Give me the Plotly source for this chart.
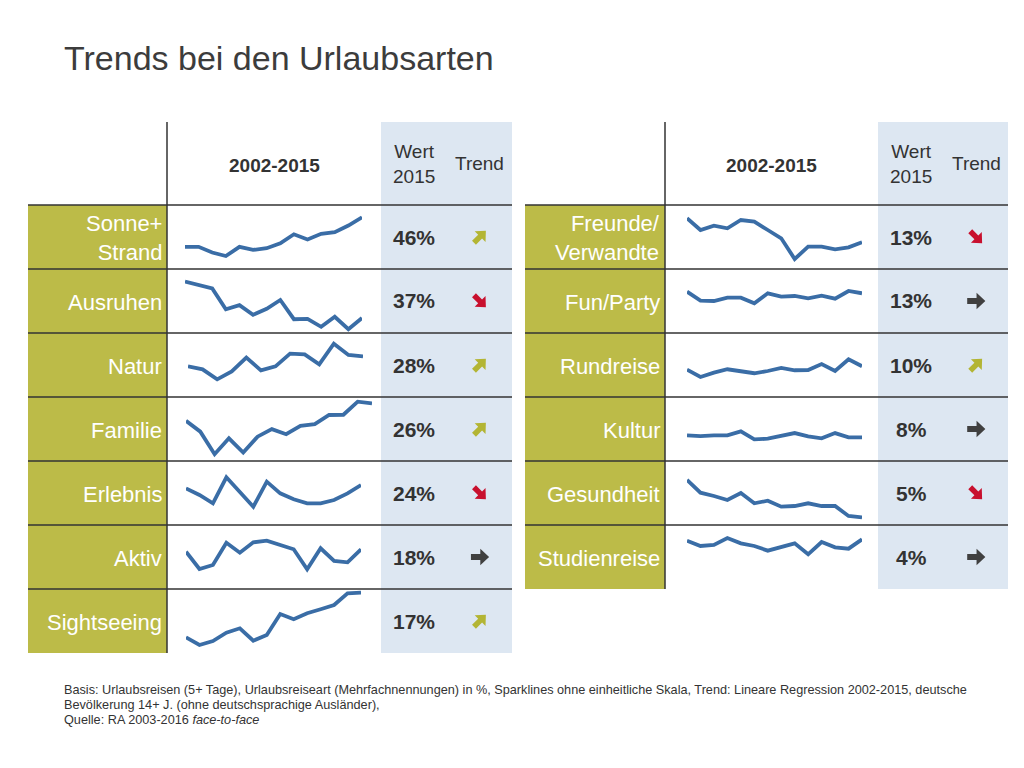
import math
import plotly.graph_objects as go

W, H = 1024, 768

# ---------------- data ----------------
years = list(range(2002, 2016))
years_natur = list(range(2003, 2016))

labels_left = ["Sonne+<br>Strand", "Ausruhen", "Natur", "Familie", "Erlebnis", "Aktiv", "Sightseeing"]
wert_left = [46, 37, 28, 26, 24, 18, 17]
trend_left = ["up", "down", "up", "up", "down", "flat", "up"]

labels_right = ["Freunde/<br>Verwandte", "Fun/Party", "Rundreise", "Kultur", "Gesundheit", "Studienreise"]
wert_right = [13, 13, 10, 8, 5, 4]
trend_right = ["down", "flat", "up", "flat", "down", "flat"]

# sparkline values in % (estimated, no common scale)
sonne_strand = [39.2, 39.2, 37.9, 37.1, 39.2, 38.5, 38.9, 40.0, 42.1, 40.9, 42.2, 42.6, 44.1, 46.0]
ausruhen = [46.1, 45.2, 44.4, 39.2, 40.2, 37.8, 39.3, 41.5, 36.7, 36.8, 34.8, 37.3, 34.2, 37.0]
natur = [26.5, 26.05, 24.55, 25.75, 27.8, 25.9, 26.5, 28.4, 28.3, 26.8, 29.9, 28.2, 28.0]
familie = [23.9, 22.6, 19.9, 21.8, 20.1, 22.0, 22.9, 22.3, 23.3, 23.5, 24.6, 24.63, 26.2, 26.0]
erlebnis = [23.5, 22.5, 21.25, 25.15, 22.95, 20.75, 24.5, 22.75, 21.85, 21.25, 21.25, 21.75, 22.75, 24.0]
aktiv = [17.76, 16.03, 16.43, 18.66, 17.66, 18.7, 18.86, 18.43, 18.0, 16.0, 18.1, 16.83, 16.7, 18.0]
sightseeing = [12.54, 11.77, 12.17, 13.0, 13.44, 12.2, 12.77, 14.87, 14.34, 14.94, 15.34, 15.77, 16.94, 17.0]
freunde_verwandte = [15.4, 14.23, 14.66, 14.4, 15.23, 15.06, 14.23, 13.4, 11.33, 12.56, 12.56, 12.3, 12.5, 13.0]
fun_party = [13.16, 12.26, 12.23, 12.56, 12.56, 12.0, 13.0, 12.66, 12.73, 12.5, 12.76, 12.46, 13.23, 13.0]
rundreise = [9.73, 9.14, 9.49, 9.76, 9.6, 9.44, 9.62, 9.86, 9.68, 9.7, 10.18, 9.62, 10.56, 10.0]
kultur = [8.16, 8.10, 8.16, 8.16, 8.48, 7.84, 7.89, 8.13, 8.34, 8.08, 7.92, 8.34, 8.0, 8.0]
gesundheit = [8.73, 7.46, 7.13, 6.73, 7.43, 6.4, 6.66, 6.06, 6.13, 6.4, 6.13, 6.13, 5.13, 5.0]
studienreise = [3.92, 3.60, 3.66, 4.08, 3.76, 3.60, 3.32, 3.52, 3.76, 3.10, 3.84, 3.52, 3.44, 4.0]

series_left = [(years, sonne_strand), (years, ausruhen), (years_natur, natur), (years, familie),
               (years, erlebnis), (years, aktiv), (years, sightseeing)]
series_right = [(years, freunde_verwandte), (years, fun_party), (years, rundreise), (years, kultur),
                (years, gesundheit), (years, studienreise)]

# ---------------- layout / style ----------------
yrange_left = [[34.11, 48.83], [33.25, 49.25], [21.9, 31.5], [19.08, 26.76], [18.0, 27.6], [14.03, 20.43], [10.97, 17.37]]
yrange_right = [[10.33, 16.73], [9.03, 15.43], [7.54, 12.66], [6.11, 11.22], [4.23, 10.63], [1.02, 4.86]]
xspan_left = [(185, 362), (185, 362), (188, 363), (186, 372), (186, 361), (186, 361), (186, 361)]
xspan_right = [(687, 862)] * 6

ROW_TOP = 205
ROW_H = 64
OLIVE = "#bcbb48"
BLUE_BG = "#dde7f2"
LINE_BLUE = "#3a6da6"
DARK = "#333333"
ARROW_COLOR = {"up": "#b3b534", "down": "#c8102e", "flat": "#404040"}
ARROW_ANGLE = {"up": -45, "down": 45, "flat": 0}
ARROW_SCALE = {"up": 1.02, "down": 1.02, "flat": 1.1}
FONT = "Liberation Sans, Arial, sans-serif"


def fx(x):
    return x / W


def fy(y):
    return 1 - y / H


fig = go.Figure()
shapes = []
annotations = []


def rect(x0, y0, x1, y1, color):
    shapes.append(dict(type="rect", xref="paper", yref="paper", x0=fx(x0), x1=fx(x1), y0=fy(y1), y1=fy(y0),
                       fillcolor=color, line=dict(width=0), layer="below"))


def line(x0, y0, x1, y1, width=1.5, color=DARK):
    shapes.append(dict(type="line", xref="paper", yref="paper", x0=fx(x0), x1=fx(x1), y0=fy(y0), y1=fy(y1),
                       line=dict(color=color, width=width), layer="above"))


def arrow(cx, cy, kind):
    # heavy block arrow, pointing right, then rotated
    pts = [(-8, -2.7), (0.5, -2.7), (0.5, -7.5), (8.5, 0), (0.5, 7.5), (0.5, 2.7), (-8, 2.7)]
    sc = ARROW_SCALE[kind]
    pts = [(x * sc, y * sc) for x, y in pts]
    a = math.radians(ARROW_ANGLE[kind])
    c, s = math.cos(a), math.sin(a)
    path = ""
    for j, (px, py) in enumerate(pts):
        X = cx + px * c - py * s
        Y = cy + px * s + py * c
        path += ("M" if j == 0 else "L") + f"{fx(X):.5f},{fy(Y):.5f} "
    path += "Z"
    shapes.append(dict(type="path", xref="paper", yref="paper", path=path,
                       fillcolor=ARROW_COLOR[kind], line=dict(width=0), layer="above"))


def text(x, y, s, size, color=DARK, xanchor="center", bold=False, yanchor="middle"):
    annotations.append(dict(xref="paper", yref="paper", x=fx(x), y=fy(y), text=s, showarrow=False,
                            xanchor=xanchor, yanchor=yanchor,
                            align="right" if xanchor == "right" else "left" if xanchor == "left" else "center",
                            font=dict(family=FONT, size=size, color=color,
                                      weight="bold" if bold else "normal")))


axis_id = [1]


def build_table(x_label0, x_label1, x_line, x_blue0, x_blue1, labels, werte, trends, series, yranges, xspans):
    n = len(labels)
    bottom = ROW_TOP + n * ROW_H
    rect(x_blue0, 122, x_blue1, bottom, BLUE_BG)
    x_wert = (x_blue0 + (x_blue0 + x_blue1) / 2) / 2 + 0.5
    x_trend = (x_blue1 + (x_blue0 + x_blue1) / 2) / 2 + 0.5
    for i in range(n):
        top = ROW_TOP + i * ROW_H
        rect(x_label0, top, x_label1, top + ROW_H, OLIVE)
        line(x_label0, top, x_blue1, top)
        cy = top + ROW_H / 2
        text(x_label1 - 3, cy + 1, labels[i], 22, color="white", xanchor="right")
        text(x_wert, cy, f"{werte[i]}%", 21, bold=True)
        arrow(x_trend, cy, trends[i])
        # sparkline
        k = axis_id[0]
        axis_id[0] += 1
        xs, ys = series[i]
        fig.add_trace(go.Scatter(x=xs, y=ys, mode="lines", line=dict(color=LINE_BLUE, width=3.8),
                                 xaxis=f"x{k}", yaxis=f"y{k}", hoverinfo="skip", showlegend=False))
        xa = dict(domain=[fx(xspans[i][0]), fx(xspans[i][1])], range=[xs[0], xs[-1]], visible=False,
                  anchor=f"y{k}", fixedrange=True)
        ya = dict(domain=[fy(top + ROW_H), fy(top)], range=yranges[i], visible=False,
                  anchor=f"x{k}", fixedrange=True)
        fig.layout[f"xaxis{k}" if k > 1 else "xaxis"] = xa
        fig.layout[f"yaxis{k}" if k > 1 else "yaxis"] = ya
    line(x_line, 122, x_line, bottom, width=1.5)
    # header
    text((x_line + x_blue0) / 2, 165, "2002-2015", 19, bold=True)
    text(x_wert, 164, "Wert<br>2015", 19)
    text(x_trend, 164, "Trend", 19)


build_table(28, 167, 167, 381, 512, labels_left, wert_left, trend_left, series_left, yrange_left, xspan_left)
build_table(525, 665, 665, 878, 1008, labels_right, wert_right, trend_right, series_right, yrange_right, xspan_right)

# title
text(62, 58, "Trends bei den Urlaubsarten", 34, color="#3c3c3c", xanchor="left")

# footnote
FN = 12.7
text(62, 690, "Basis: Urlaubsreisen (5+ Tage), Urlaubsreiseart (Mehrfachnennungen) in %, Sparklines ohne einheitliche Skala, "
     "Trend: Lineare Regression 2002-2015, deutsche", FN, color="#333333", xanchor="left")
text(62, 705, "Bevölkerung 14+ J. (ohne deutschsprachige Ausländer),", FN, color="#333333", xanchor="left")
text(62, 720, "Quelle: RA 2003-2016 <i>face-to-face</i>", FN, color="#333333", xanchor="left")

fig.update_layout(width=W, height=H, margin=dict(l=0, r=0, t=0, b=0),
                  paper_bgcolor="white", plot_bgcolor="rgba(0,0,0,0)",
                  shapes=shapes, annotations=annotations, showlegend=False,
                  font=dict(family=FONT))

fig.write_html("out.html", config={"displayModeBar": False},
               post_script="document.body.style.margin='0';document.body.style.overflow='hidden';")
